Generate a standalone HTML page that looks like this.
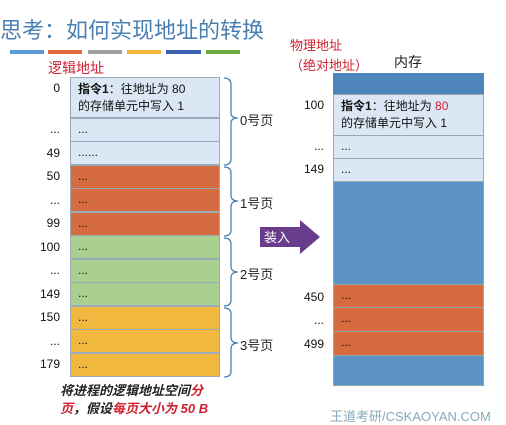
<!DOCTYPE html>
<html><head><meta charset="utf-8"><style>
body{margin:0;width:506px;height:414px;overflow:hidden;background:#fff;font-family:"Liberation Sans","Noto Sans CJK SC",sans-serif;position:relative}
div{position:absolute;box-sizing:border-box}
.cell{left:70px;width:150px;border:1px solid #9ab;font-size:12px;padding:3px 0 0 7px;color:#111}
.lab{font-size:12px;color:#111;text-align:right;width:50px}
.mc{left:333px;width:151px;border:1px solid #9aa;font-size:12px;padding:3px 0 0 7px;color:#111}
.pg{font-size:13px;color:#222}
</style></head><body>
<div style="left:0;top:13px;font-size:22px;color:#4a7fb4;font-family:'Noto Sans CJK SC',sans-serif">思考：如何实现地址的转换</div>
<div style="left:10px;top:50px;width:34px;height:4px;background:#5b9bd5"></div>
<div style="left:48px;top:50px;width:34px;height:4px;background:#e06c3c"></div>
<div style="left:88px;top:50px;width:34px;height:4px;background:#a0a0a0"></div>
<div style="left:127px;top:50px;width:34px;height:4px;background:#f2b53c"></div>
<div style="left:166px;top:50px;width:35px;height:4px;background:#3d64b0"></div>
<div style="left:206px;top:50px;width:34px;height:4px;background:#6aaa3e"></div>
<div style="left:48px;top:58px;font-size:14px;color:#d02030">逻辑地址</div>
<div style="left:290px;top:36px;font-size:13px;color:#d02030;line-height:20px">物理地址<br>（绝对地址）</div>
<div style="left:394px;top:52px;font-size:14px;color:#222">内存</div>

<div class="cell" style="top:77px;height:41px;background:#dbe7f4;line-height:17px"><b>指令1</b>：往地址为 80<br>的存储单元中写入 1</div>
<div class="cell" style="top:118px;height:24px;background:#dbe7f4">...</div>
<div class="cell" style="top:141px;height:24px;background:#dbe7f4">......</div>
<div class="cell" style="top:165px;height:24px;background:#d56b3f">...</div>
<div class="cell" style="top:188px;height:24px;background:#d56b3f">...</div>
<div class="cell" style="top:212px;height:24px;background:#d56b3f">...</div>
<div class="cell" style="top:235px;height:24px;background:#a9d08e">...</div>
<div class="cell" style="top:259px;height:24px;background:#a9d08e">...</div>
<div class="cell" style="top:282px;height:24px;background:#a9d08e">...</div>
<div class="cell" style="top:306px;height:24px;background:#f1b73f">...</div>
<div class="cell" style="top:329px;height:24px;background:#f1b73f">...</div>
<div class="cell" style="top:353px;height:24px;background:#f1b73f">...</div>

<div class="lab" style="left:10px;top:81px">0</div>
<div class="lab" style="left:10px;top:122px">...</div>
<div class="lab" style="left:10px;top:146px">49</div>
<div class="lab" style="left:10px;top:169px">50</div>
<div class="lab" style="left:10px;top:193px">...</div>
<div class="lab" style="left:10px;top:216px">99</div>
<div class="lab" style="left:10px;top:240px">100</div>
<div class="lab" style="left:10px;top:263px">...</div>
<div class="lab" style="left:10px;top:287px">149</div>
<div class="lab" style="left:10px;top:310px">150</div>
<div class="lab" style="left:10px;top:334px">...</div>
<div class="lab" style="left:10px;top:357px">179</div>

<svg style="position:absolute;left:222px;top:75px" width="20" height="305">
<g fill="none" stroke="#4a7fb4" stroke-width="1.3">
<path d="M2 3 Q9 3 9 10 V38 Q9 43 16 43 Q9 43 9 48 V84 Q9 90 2 90"/>
<path d="M2 92 Q9 92 9 98 V120 Q9 126 16 126 Q9 126 9 132 V155 Q9 161 2 161"/>
<path d="M2 163 Q9 163 9 169 V191 Q9 197 16 197 Q9 197 9 203 V225 Q9 231 2 231"/>
<path d="M2 233 Q9 233 9 239 V262 Q9 268 16 268 Q9 268 9 274 V296 Q9 302 2 302"/>
</g></svg>
<div class="pg" style="left:240px;top:110px">0号页</div>
<div class="pg" style="left:240px;top:193px">1号页</div>
<div class="pg" style="left:240px;top:264px">2号页</div>
<div class="pg" style="left:240px;top:335px">3号页</div>

<svg style="position:absolute;left:260px;top:220px" width="62" height="34">
<polygon points="0,7 40,7 40,0 60,17 40,34 40,27 0,27" fill="#6a3c8c"/>
<text x="4" y="22" font-size="13" fill="#fff" font-family="Noto Sans CJK SC,sans-serif">装入</text></svg>

<div style="left:333px;top:73px;width:151px;height:313px;background:#5b93c7;border:1px solid #8aa"></div>
<div style="left:333px;top:73px;width:151px;height:21px;background:#4e86bc"></div>
<div class="mc" style="top:94px;height:42px;background:#dbe7f4;line-height:17px"><b>指令1</b>：往地址为 <span style="color:#d02030">80</span><br>的存储单元中写入 1</div>
<div class="mc" style="top:135px;height:24px;background:#dbe7f4">...</div>
<div class="mc" style="top:158px;height:24px;background:#dbe7f4">...</div>
<div class="mc" style="top:284px;height:24px;background:#d56b3f">...</div>
<div class="mc" style="top:307px;height:25px;background:#d56b3f">...</div>
<div class="mc" style="top:331px;height:25px;background:#d56b3f">...</div>
<div class="lab" style="left:274px;top:98px">100</div>
<div class="lab" style="left:274px;top:139px">...</div>
<div class="lab" style="left:274px;top:162px">149</div>
<div class="lab" style="left:274px;top:290px">450</div>
<div class="lab" style="left:274px;top:313px">...</div>
<div class="lab" style="left:274px;top:337px">499</div>

<div style="left:60px;top:382px;width:152px;font-size:13px;font-weight:bold;font-style:italic;line-height:18px;color:#222">将进程的逻辑地址空间<span style="color:#d02030">分</span><br><span style="color:#d02030">页</span>，假设<span style="color:#d02030">每页大小为 50 B</span></div>
<div style="left:330px;top:406px;font-size:13px;color:#8ab">王道考研/CSKAOYAN.COM</div>
</body></html>
